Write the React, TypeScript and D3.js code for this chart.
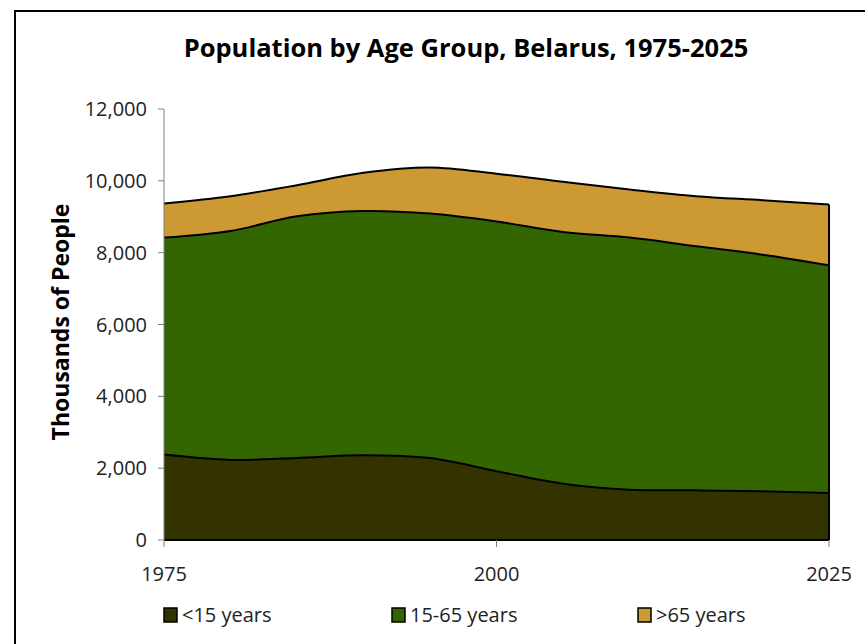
import React, { useRef, useEffect } from "react";
import * as d3 from "d3";

const years = [1975, 1980, 1985, 1990, 1995, 2000, 2005, 2010, 2015, 2020, 2025];
const under15 = [2378, 2230, 2286, 2360, 2280, 1917, 1567, 1400, 1382, 1355, 1309];
const age15to65 = [6041, 6375, 6728, 6800, 6808, 6950, 7010, 7019, 6795, 6589, 6338];
const over65 = [948, 967, 865, 1063, 1284, 1330, 1395, 1339, 1395, 1516, 1693];

const seriesNames = ["<15 years", "15-65 years", ">65 years"];
const seriesColors = ["#333300", "#336600", "#cc9933"];
const yTicks = [0, 2000, 4000, 6000, 8000, 10000, 12000];
const xTicks = [1975, 2000, 2025];

const FONT = "'Open Sans', 'Noto Sans', sans-serif";

const App: React.FC = () => {
  const svgRef = useRef<SVGSVGElement>(null);

  useEffect(() => {
    if (!svgRef.current) return;
    const svg = d3.select(svgRef.current);
    svg.selectAll("*").remove();

    const left = 164;
    const right = 829;
    const top = 109;
    const bottom = 540;

    const x = d3.scaleLinear().domain([1975, 2025]).range([left, right]);
    const y = d3.scaleLinear().domain([0, 12000]).range([bottom, top]);

    // outer frame
    svg
      .append("rect")
      .attr("x", 15)
      .attr("y", 11)
      .attr("width", 900)
      .attr("height", 700)
      .attr("fill", "#fff")
      .attr("stroke", "#000")
      .attr("stroke-width", 2);

    svg
      .append("text")
      .attr("x", 466)
      .attr("y", 57)
      .attr("text-anchor", "middle")
      .attr("font-family", FONT)
      .attr("font-weight", "bold")
      .attr("font-size", 25.5)
      .attr("fill", "#000")
      .text("Population by Age Group, Belarus, 1975-2025");

    const rows = years.map((yr, i) => ({
      year: yr,
      a: under15[i],
      b: age15to65[i],
      c: over65[i],
    }));
    const stacked = d3.stack<any>().keys(["a", "b", "c"])(rows);

    const area = d3
      .area<any>()
      .x((d) => x(d.data.year))
      .y0((d) => y(d[0]))
      .y1((d) => y(d[1]))
      .curve(d3.curveCatmullRom);

    const line = d3
      .line<any>()
      .x((d) => x(d.data.year))
      .y((d) => y(d[1]))
      .curve(d3.curveCatmullRom);

    stacked.forEach((s, i) => {
      svg
        .append("path")
        .datum(s)
        .attr("fill", seriesColors[i])
        .attr("stroke", "none")
        .attr("d", area);
    });
    stacked.forEach((s) => {
      svg
        .append("path")
        .datum(s)
        .attr("fill", "none")
        .attr("stroke", "#000")
        .attr("stroke-width", 2)
        .attr("d", line);
    });
    // right edge and baseline
    const last = years.length - 1;
    svg
      .append("line")
      .attr("x1", x(years[last]))
      .attr("x2", x(years[last]))
      .attr("y1", y(0))
      .attr("y2", y(stacked[2][last][1]))
      .attr("stroke", "#000")
      .attr("stroke-width", 2);
    svg
      .append("line")
      .attr("x1", x(years[0]))
      .attr("x2", x(years[last]))
      .attr("y1", y(0))
      .attr("y2", y(0))
      .attr("stroke", "#000")
      .attr("stroke-width", 2);

    // y axis
    svg
      .append("line")
      .attr("x1", left)
      .attr("x2", left)
      .attr("y1", top)
      .attr("y2", bottom)
      .attr("stroke", "#808080")
      .attr("stroke-width", 1);
    yTicks.forEach((t) => {
      svg
        .append("line")
        .attr("x1", left - 6)
        .attr("x2", left)
        .attr("y1", y(t))
        .attr("y2", y(t))
        .attr("stroke", "#808080");
      svg
        .append("text")
        .attr("x", 147)
        .attr("y", y(t))
        .attr("dy", "0.35em")
        .attr("text-anchor", "end")
        .attr("font-family", FONT)
        .attr("font-size", 20)
        .attr("fill", "#222")
        .text(d3.format(",")(t));
    });

    // x axis ticks
    xTicks.forEach((t) => {
      svg
        .append("line")
        .attr("x1", x(t))
        .attr("x2", x(t))
        .attr("y1", bottom)
        .attr("y2", bottom + 7)
        .attr("stroke", "#808080");
      svg
        .append("text")
        .attr("x", x(t))
        .attr("y", 581)
        .attr("text-anchor", "middle")
        .attr("font-family", FONT)
        .attr("font-size", 20)
        .attr("fill", "#222")
        .text(String(t));
    });

    svg
      .append("text")
      .attr("transform", "translate(69,322) rotate(-90)")
      .attr("text-anchor", "middle")
      .attr("font-family", FONT)
      .attr("font-weight", "bold")
      .attr("font-size", 23)
      .attr("fill", "#000")
      .text("Thousands of People");

    // legend
    const legendX = [164, 392, 638];
    seriesNames.forEach((name, i) => {
      svg
        .append("rect")
        .attr("x", legendX[i])
        .attr("y", 608)
        .attr("width", 13)
        .attr("height", 14)
        .attr("fill", seriesColors[i])
        .attr("stroke", "#000")
        .attr("stroke-width", 1.5);
      svg
        .append("text")
        .attr("x", legendX[i] + 18)
        .attr("y", 622)
        .attr("font-family", FONT)
        .attr("font-size", 20)
        .attr("fill", "#222")
        .text(name);
    });
  }, []);

  return (
    <svg
      ref={svgRef}
      width={865}
      height={644}
      style={{ position: "absolute", left: 0, top: 0, background: "#fff" }}
    />
  );
};

export default App;
